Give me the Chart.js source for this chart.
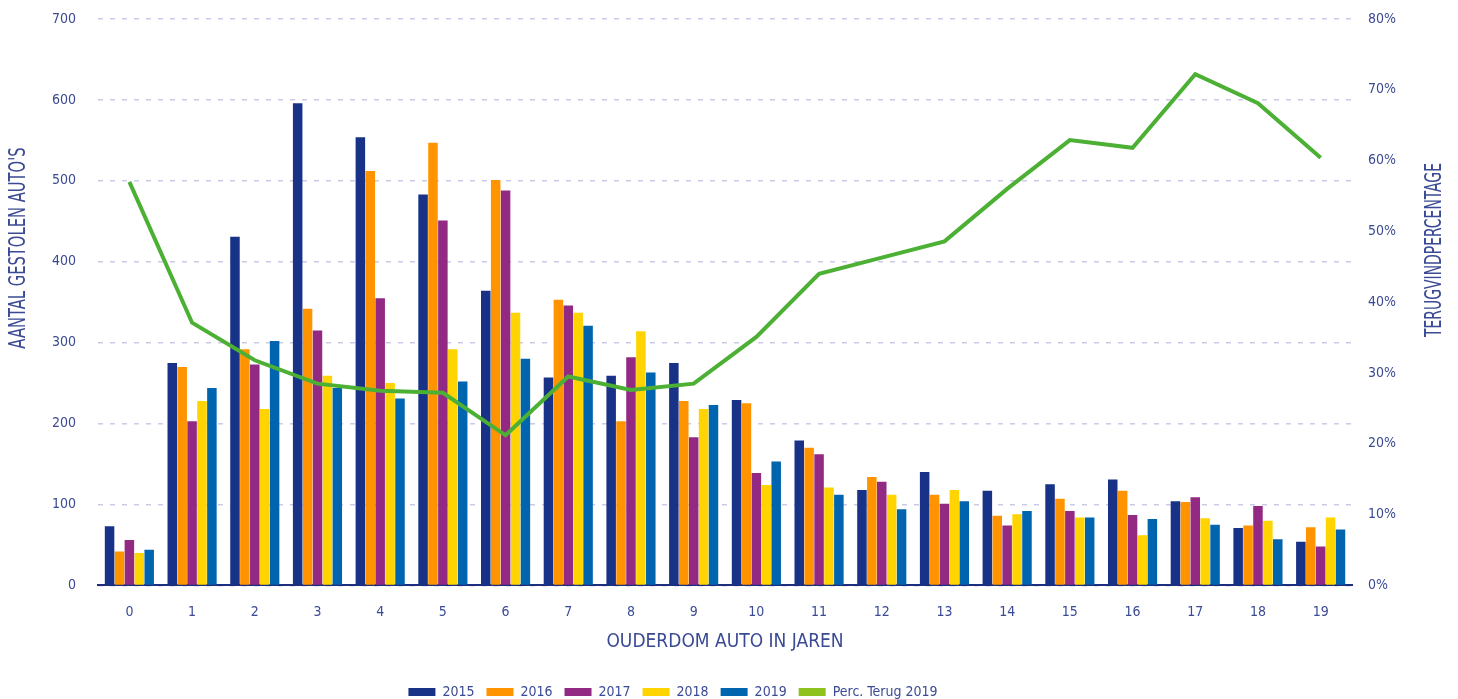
<!DOCTYPE html>
<html>
<head>
<meta charset="utf-8">
<script src="https://cdn.jsdelivr.net/npm/chart.js@4/dist/chart.umd.min.js"></script>
<style>
html,body{margin:0;padding:0;background:#fff;}
#wrap{width:1458px;height:699px;}
</style>
</head>
<body>
<div id="wrap"><canvas id="c" width="1458" height="699"></canvas></div>
<script>
const categories = ['0','1','2','3','4','5','6','7','8','9','10','11','12','13','14','15','16','17','18','19'];
const seriesNames = ['2015','2016','2017','2018','2019'];
const y2015 = [73,275,431,596,554,483,364,257,259,275,229,179,118,140,117,125,131,104,71,54];
const y2016 = [42,270,292,342,512,547,501,353,203,228,225,170,134,112,86,107,117,103,74,72];
const y2017 = [56,203,273,315,355,451,488,346,282,183,139,162,128,101,74,92,87,109,98,48];
const y2018 = [40,228,218,259,250,292,337,337,314,218,124,121,112,118,88,84,62,83,80,84];
const y2019 = [44,244,302,244,231,252,280,321,263,223,153,112,94,104,92,84,82,75,57,69];
const percName = 'Perc. Terug 2019';
const percTerug2019 = [57,37.1,31.8,28.5,27.5,27.2,21.2,29.5,27.6,28.5,35.1,44.0,46.3,48.6,56.0,62.9,61.8,72.2,68.1,60.4];
const leftTicks = [0,100,200,300,400,500,600,700];
const rightTicks = [0,10,20,30,40,50,60,70,80];
const leftTitle = "AANTAL GESTOLEN AUTO'S";
const rightTitle = 'TERUGVINDPERCENTAGE';
const xTitle = 'OUDERDOM AUTO IN JAREN';

const barColors = ['#173287','#ff9400','#922a84','#ffd400','#0064ae'];
const lineColor = '#4cb034';
const legendLineColor = '#8dc21f';
const textColor = '#3b4a94';

function fontAvailable(name){
  const c = document.createElement('canvas').getContext('2d');
  const s = 'mmmmmmmmmwwwwwlli 0123456789';
  c.font = '40px monospace'; const a = c.measureText(s).width;
  c.font = '40px "' + name + '", monospace'; const b = c.measureText(s).width;
  c.font = '40px serif'; const d = c.measureText(s).width;
  c.font = '40px "' + name + '", serif'; const e = c.measureText(s).width;
  return a !== b || d !== e;
}
let FAMILY = 'Roboto';
for (const f of ['Liberation Sans Narrow','DejaVu Sans Condensed','Roboto Condensed','Arial Narrow']) {
  if (fontAvailable(f)) { FAMILY = '"' + f + '"'; break; }
}
FAMILY = FAMILY + ', Roboto, sans-serif';

const allSeries = [y2015,y2016,y2017,y2018,y2019];
const datasets = allSeries.map((d,i)=>({
  type:'bar', label: seriesNames[i], data: d, backgroundColor: barColors[i],
  borderWidth: 0, yAxisID:'y', order: 2,
  barPercentage: 0.96, categoryPercentage: 0.79
}));
datasets.push({
  type:'line', label: percName, data: percTerug2019, borderColor: lineColor,
  backgroundColor: legendLineColor, borderWidth: 4, pointRadius: 0, tension: 0,
  yAxisID:'y1', order: 1, borderJoinStyle:'miter'
});

function drawSideTitle(ctx, text, x, y){
  ctx.save();
  ctx.fillStyle = textColor;
  ctx.font = '23px ' + FAMILY;
  ctx.textAlign = 'center'; ctx.textBaseline = 'middle';
  ctx.translate(x, y); ctx.rotate(-Math.PI/2);
  const w = ctx.measureText(text).width;
  const target = text.length * 9.15;
  ctx.scale(Math.min(1, target / w), 1);
  ctx.fillText(text, 0, 0);
  ctx.restore();
}
const titlePlugin = {
  id:'sideTitles',
  afterLayout(chart){
    const lg = chart.legend;
    if (lg) { lg.left -= 48; lg.right -= 48; }
  },
  afterDraw(chart){
    drawSideTitle(chart.ctx, leftTitle, 19, 248);
    drawSideTitle(chart.ctx, rightTitle, 1435, 250);
  }
};
const fixTop = s => { s.paddingTop = 19; };

new Chart(document.getElementById('c'), {
  data: { labels: categories, datasets },
  options: {
    responsive:false, devicePixelRatio:1, animation:false,
    layout:{ padding:{ left:30, right:46, top:0, bottom:-10 } },
    plugins:{
      tooltip:{enabled:false},
      legend:{
        position:'bottom',
        labels:{
          boxWidth:27, boxHeight:8, padding:12, color:textColor,
          font:{ family:FAMILY, size:14 },
          generateLabels(chart){
            return chart.data.datasets.map((ds,i)=>({
              text: ds.label, fillStyle: ds.type==='line'? legendLineColor : ds.backgroundColor,
              strokeStyle: ds.type==='line'? legendLineColor : ds.backgroundColor,
              lineWidth: 0, datasetIndex:i, hidden:false, fontColor:textColor
            }));
          }
        }
      }
    },
    scales:{
      x:{
        grid:{ display:false, drawTicks:false },
        border:{ display:true, color:'#1d2e7d', width:2 },
        ticks:{ color:textColor, font:{family:FAMILY, size:14}, padding:19 },
        title:{ display:true, text:xTitle, color:textColor, font:{family:FAMILY, size:19}, padding:{top:-10,bottom:20} }
      },
      y:{
        position:'left', min:0, max:700,
        afterBuildTicks(s){ s.ticks = leftTicks.map(v=>({value:v})); },
        afterFit: fixTop,
        grid:{ color:'#cdcae8', lineWidth:1.4, drawTicks:false },
        border:{ display:false, dash:[5,7] },
        ticks:{ color:textColor, font:{family:FAMILY, size:14}, padding:22 }
      },
      y1:{
        position:'right', min:0, max:80,
        afterBuildTicks(s){ s.ticks = rightTicks.map(v=>({value:v})); },
        afterFit: fixTop,
        grid:{ display:false, drawTicks:false },
        border:{ display:false },
        ticks:{ color:textColor, font:{family:FAMILY, size:14}, padding:16, callback:v=>v+'%' }
      }
    }
  },
  plugins:[titlePlugin]
});
</script>
</body>
</html>
